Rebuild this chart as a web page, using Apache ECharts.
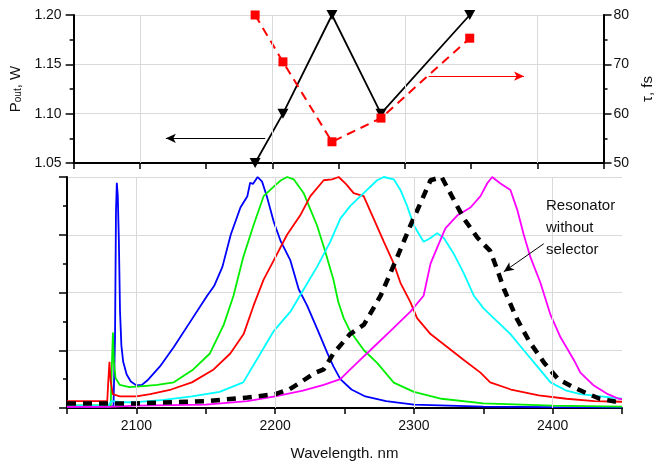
<!DOCTYPE html>
<html>
<head>
<meta charset="utf-8">
<script src="https://cdn.jsdelivr.net/npm/echarts@6/dist/echarts.min.js"></script>
<style>
html,body{margin:0;padding:0;background:#fff;}
#c{width:663px;height:466px;}
</style>
</head>
<body>
<div id="c"></div>
<script>
// ---- Top panel data ----
const peakWl = [2187, 2208, 2245, 2282, 2349];
const pout = [1.05, 1.10, 1.20, 1.10, 1.20];
const tau = [80, 70.5, 54.3, 59.1, 75.3];

// ---- Bottom panel spectra [wavelength, normalized intensity] ----
const blue = [[2050,0.005],[2070,0.005],[2083.5,0.008],[2084.6,0.3],[2085.3,0.85],[2085.9,0.975],[2086.6,0.92],[2087.4,0.72],[2088.2,0.42],[2089.2,0.27],[2090.5,0.2],[2093,0.145],[2096,0.115],[2100,0.098],[2104,0.1],[2108,0.12],[2117,0.18],[2127,0.264],[2139,0.375],[2151,0.486],[2156,0.528],[2162,0.611],[2168,0.75],[2175,0.868],[2180,0.917],[2182,0.975],[2184,0.97],[2187.4,1.0],[2190.6,0.98],[2194,0.917],[2199,0.806],[2204,0.722],[2211,0.639],[2217,0.514],[2223,0.444],[2230,0.347],[2237.5,0.24],[2242,0.18],[2247,0.125],[2255,0.08],[2265,0.05],[2280,0.03],[2300,0.015],[2350,0.006],[2400,0.004],[2450,0.003]];
const green = [[2050,0.01],[2081.5,0.012],[2082.4,0.2],[2083.1,0.327],[2083.8,0.2],[2085,0.13],[2088,0.1],[2095,0.09],[2105,0.095],[2115,0.1],[2127,0.111],[2141,0.167],[2153,0.236],[2163,0.361],[2170,0.486],[2177,0.653],[2184.5,0.792],[2191.7,0.917],[2199,0.958],[2204,0.985],[2208.6,1.0],[2213.4,0.99],[2220.6,0.93],[2225.4,0.86],[2230.2,0.79],[2236,0.68],[2242,0.556],[2245.5,0.46],[2249.4,0.389],[2254,0.333],[2264,0.25],[2273.5,0.195],[2285.5,0.11],[2300,0.07],[2320,0.04],[2350,0.02],[2400,0.01],[2450,0.006]];
const red = [[2050,0.03],[2079,0.03],[2079.8,0.12],[2080.6,0.2],[2081.4,0.12],[2083,0.06],[2088,0.05],[2100,0.05],[2110,0.06],[2125,0.08],[2140,0.111],[2155.7,0.167],[2167.7,0.236],[2177.3,0.32],[2184.5,0.444],[2191.7,0.556],[2199,0.639],[2208.6,0.75],[2218,0.833],[2225.4,0.917],[2235,0.986],[2241,0.99],[2245.8,1.0],[2251,0.97],[2256.6,0.93],[2263.8,0.917],[2271,0.82],[2278.3,0.72],[2285.5,0.625],[2290.3,0.542],[2297.5,0.458],[2302.3,0.389],[2312,0.32],[2324,0.264],[2336,0.208],[2348,0.153],[2355,0.111],[2370,0.08],[2390,0.055],[2410,0.04],[2430,0.03],[2450,0.027]];
const cyan = [[2050,0.01],[2080,0.01],[2082,0.03],[2090,0.025],[2100,0.025],[2120,0.035],[2140,0.05],[2160,0.07],[2177,0.111],[2189.4,0.236],[2199,0.333],[2211,0.417],[2220.6,0.514],[2230.2,0.611],[2239.8,0.72],[2247,0.82],[2254.2,0.875],[2263.8,0.93],[2273.5,0.986],[2278.3,1.0],[2285.5,0.99],[2290.3,0.944],[2295.1,0.875],[2300,0.79],[2307,0.72],[2312,0.736],[2316.8,0.757],[2321.6,0.736],[2328.8,0.667],[2336,0.583],[2343.2,0.486],[2350.4,0.43],[2360,0.375],[2369.6,0.32],[2379.2,0.25],[2388.9,0.18],[2398.5,0.111],[2410,0.075],[2420,0.06],[2435,0.05],[2450,0.04]];
const magenta = [[2050,0.005],[2080,0.005],[2100,0.01],[2150,0.015],[2180,0.03],[2200,0.05],[2220,0.075],[2235,0.1],[2247,0.125],[2259,0.195],[2271,0.264],[2283,0.333],[2297.5,0.417],[2307,0.486],[2312,0.625],[2316.8,0.694],[2322.7,0.778],[2331.2,0.833],[2340.8,0.868],[2348,0.917],[2352.8,0.972],[2356.4,1.0],[2362.4,0.972],[2369.6,0.944],[2374.4,0.86],[2379.2,0.75],[2384,0.653],[2391.2,0.542],[2398.5,0.403],[2405.7,0.306],[2415.3,0.208],[2420,0.153],[2429.7,0.097],[2439,0.0625],[2447.7,0.04],[2450,0.038]];
const noSelector = [[2050,0.02],[2100,0.02],[2150,0.03],[2180,0.045],[2200,0.06],[2210,0.08],[2218,0.11],[2228,0.15],[2235,0.167],[2242,0.236],[2254,0.32],[2264,0.361],[2276,0.486],[2288,0.653],[2297.5,0.79],[2305,0.89],[2312,0.986],[2320,1.0],[2328,0.91],[2336,0.82],[2346,0.736],[2355,0.68],[2360,0.6],[2365,0.514],[2374,0.389],[2383,0.29],[2394,0.195],[2404,0.125],[2415,0.09],[2425,0.0625],[2434,0.04],[2445,0.028],[2450,0.025]];

// ---- Axis ticks / gridlines ----
const xGridWl = [2100, 2200, 2300, 2400];

// ---- Annotations ----
const poutArrow = [[2194.6, 1.075], [2119.6, 1.075]];
const tauArrow = [[2318, 67.6], [2390, 67.6]];
const noteArrow = [[2393.6, 0.711], [2364.8, 0.59]];
const noteText = 'Resonator\nwithout\nselector';

const FONT = 'Liberation Sans, Arial, sans-serif';
const GRIDC = '#d9d9d9';

function xAx(grid, labels) {
  return {
    type: 'value', gridIndex: grid, min: 2050, max: 2450, interval: 50,
    axisLine: {show: true, onZero: false, lineStyle: {color: '#000', width: 2}},
    axisTick: {show: true, inside: false, length: 6, lineStyle: {color: '#000', width: 1.5}},
    axisLabel: labels ? {show: true, margin: 11, fontSize: 14, color: '#111', fontFamily: FONT,
      formatter: v => (Math.round(v) % 100 === 0 ? String(Math.round(v)) : '')} : {show: false},
    splitLine: {show: false},
    name: labels ? 'Wavelength. nm' : '', nameLocation: 'middle', nameGap: 38,
    nameTextStyle: {fontSize: 15, color: '#111', fontFamily: FONT}
  };
}

function gridLines(xi, yi) {
  return {
    type: 'line', xAxisIndex: xi, yAxisIndex: yi, data: [], z: 1, silent: true,
    markLine: {silent: true, symbol: ['none', 'none'], animation: false,
      label: {show: false}, lineStyle: {color: GRIDC, width: 1, type: 'solid'},
      data: xGridWl.map(v => ({xAxis: v}))}
  };
}

function arrow(pts, color, xi, yi) {
  return {
    type: 'line', xAxisIndex: xi, yAxisIndex: yi, data: [], z: 5, silent: true,
    markLine: {silent: true, symbol: ['none', 'arrow'], symbolSize: [7, 10], animation: false,
      label: {show: false}, lineStyle: {color: color, width: 1, type: 'solid'},
      data: [[{coord: pts[0]}, {coord: pts[1]}]]}
  };
}

function spec(data, color) {
  return {type: 'line', xAxisIndex: 1, yAxisIndex: 2, data: data, showSymbol: false,
    lineStyle: {color: color, width: 1.8}, z: 3};
}

const chart = echarts.init(document.getElementById('c'), null, {renderer: 'canvas'});
chart.setOption({
  animation: false,
  backgroundColor: '#fff',
  textStyle: {fontFamily: FONT},
  grid: [
    {left: 67, top: 15, width: 555, height: 148},
    {left: 67, top: 177, width: 555, height: 240}
  ],
  xAxis: [xAx(0, false), xAx(1, true)],
  yAxis: [
    {type: 'value', gridIndex: 0, position: 'left', min: 1.05, max: 1.20, interval: 0.05,
      axisLine: {show: true, lineStyle: {color: '#000', width: 2}},
      axisTick: {show: true, length: 8, lineStyle: {color: '#000', width: 1.5}},
      minorTick: {show: true, splitNumber: 2, length: 4, lineStyle: {color: '#000', width: 1.5}},
      axisLabel: {margin: 12, fontSize: 14, color: '#111', fontFamily: FONT, formatter: v => v.toFixed(2)},
      splitLine: {show: true, lineStyle: {color: GRIDC, width: 1}},
      name: 'P{s|out}, W', nameLocation: 'middle', nameGap: 48, nameRotate: 90,
      nameTextStyle: {fontSize: 15, color: '#111', fontFamily: FONT,
        rich: {s: {fontSize: 10, verticalAlign: 'bottom', padding: [6, 0, 0, 0], fontFamily: FONT, color: '#111'}}}
    },
    {type: 'value', gridIndex: 0, position: 'right', min: 50, max: 80, interval: 10,
      axisLine: {show: true, lineStyle: {color: '#000', width: 2}},
      axisTick: {show: true, length: 8, lineStyle: {color: '#000', width: 1.5}},
      minorTick: {show: true, splitNumber: 2, length: 4, lineStyle: {color: '#000', width: 1.5}},
      axisLabel: {margin: 10, fontSize: 14, color: '#111', fontFamily: FONT},
      splitLine: {show: false},
      name: 'τ, fs', nameLocation: 'middle', nameGap: 33, nameRotate: 90,
      nameTextStyle: {fontSize: 15, color: '#111', fontFamily: FONT}
    },
    {type: 'value', gridIndex: 1, position: 'left', min: 0, max: 1, interval: 0.25,
      axisLine: {show: true, lineStyle: {color: '#000', width: 2}},
      axisTick: {show: true, length: 8, lineStyle: {color: '#000', width: 1.5}},
      minorTick: {show: true, splitNumber: 2, length: 4, lineStyle: {color: '#000', width: 1.5}},
      axisLabel: {show: false},
      splitLine: {show: true, lineStyle: {color: GRIDC, width: 1}}
    }
  ],
  series: [
    gridLines(0, 0),
    gridLines(1, 2),
    spec(blue, '#0000ff'),
    spec(green, '#00ee00'),
    spec(red, '#ff0000'),
    spec(cyan, '#00ffff'),
    spec(magenta, '#ff00ff'),
    {type: 'line', xAxisIndex: 1, yAxisIndex: 2, data: noSelector, showSymbol: false, z: 4,
      lineStyle: {color: '#000', width: 4.5, type: [9, 7], cap: 'butt'}},
    {type: 'line', xAxisIndex: 0, yAxisIndex: 0, data: peakWl.map((w, i) => [w, pout[i]]),
      symbol: 'triangle', symbolRotate: 180, symbolSize: [11, 10], showAllSymbol: true,
      itemStyle: {color: '#000'}, lineStyle: {color: '#000', width: 1.8}, z: 3},
    {type: 'line', xAxisIndex: 0, yAxisIndex: 1, data: peakWl.map((w, i) => [w, tau[i]]),
      symbol: 'rect', symbolSize: 9, showAllSymbol: true,
      itemStyle: {color: '#ff0000'}, lineStyle: {color: '#ff0000', width: 2, type: [9, 6]}, z: 4},
    arrow(poutArrow, '#000', 0, 0),
    arrow(tauArrow, '#ff0000', 0, 1),
    arrow(noteArrow, '#000', 1, 2)
  ],
  graphic: [
    {type: 'text', left: 546, top: 195, z: 10,
      style: {text: noteText, fontSize: 15, lineHeight: 22, fill: '#111', fontFamily: FONT}}
  ]
});
</script>
</body>
</html>
